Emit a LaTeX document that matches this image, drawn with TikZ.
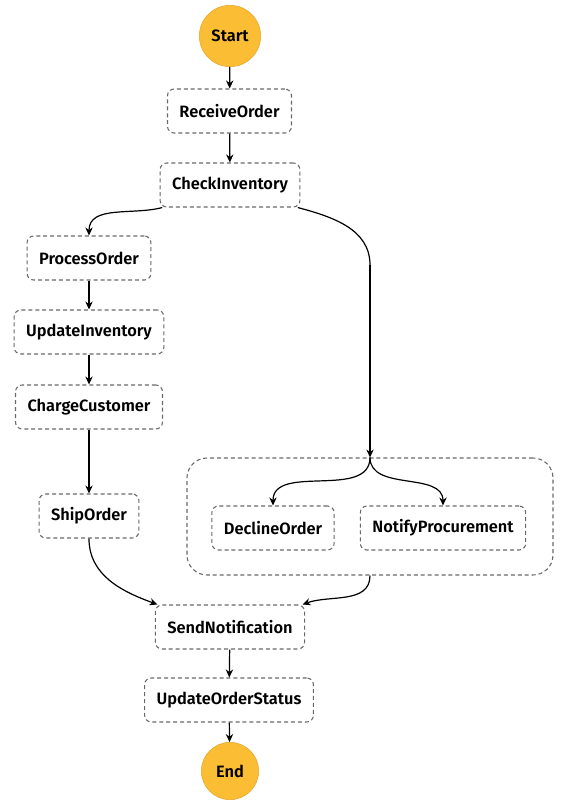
\documentclass[tikz,border=0pt]{standalone}
\usepackage{fontspec}
\setmainfont{Fira Sans SemiBold}
\usetikzlibrary{arrows.meta}
\definecolor{stategray}{RGB}{105,105,105}
\definecolor{termfill}{RGB}{251,189,52}
\definecolor{termdraw}{RGB}{232,165,40}
\begin{document}
\begin{tikzpicture}[x=0.75pt,y=-0.75pt,font=\fontsize{12.3}{14}\selectfont,
  state/.style={draw=stategray,line width=0.8pt,dash pattern=on 3pt off 2.2pt,rounded corners=5pt,
    minimum height=33pt,inner xsep=9pt},
  term/.style={circle,fill=termfill,draw=termdraw,minimum size=#1},
  flow/.style={line width=0.9pt,-{Stealth[length=6pt,width=5.5pt]}}]
\useasboundingbox (0,0) rectangle (564,807);
\node[term=46pt] (start) at (230,36) {Start};
\node[state] (receiveorder) at (229.5,111) {ReceiveOrder};
\node[state] (checkinventory) at (230,185) {CheckInventory};
\node[state] (processorder) at (89,258) {ProcessOrder};
\node[state] (updateinventory) at (89,332) {UpdateInventory};
\node[state] (chargecustomer) at (89,407) {ChargeCustomer};
\node[state] (shiporder) at (89,516) {ShipOrder};
% parallel block
\node[state,minimum width=274.5pt,minimum height=87.75pt,rounded corners=15pt] (parallel) at (370,516.5) {};
\node[state] (declineorder) at (273,528) {DeclineOrder};
\node[state] (notifyprocurement) at (443,528) {NotifyProcurement};
\node[state] (sendnotification) at (230,627) {SendNotification};
\node[state] (updateorderstatus) at (229,700) {UpdateOrderStatus};
\node[term=43pt] (end) at (230,771) {End};
\coordinate (bend) at (370,265);

\draw[flow] (start) -- (receiveorder);
\draw[flow] (receiveorder) -- (checkinventory);
\draw[flow] ([xshift=2pt]checkinventory.south west) to[out=195,in=90] (processorder.north);
\draw[flow] (processorder) -- (updateinventory);
\draw[flow] (updateinventory) -- (chargecustomer);
\draw[flow] (chargecustomer) -- (shiporder);
\draw[line width=0.9pt] ([xshift=-2pt]checkinventory.south east) to[out=-15,in=90] (bend);
\draw[flow] (bend) -- (parallel.north);
\draw[flow] (parallel.north) to[out=-90,in=90] (declineorder.north);
\draw[flow] (parallel.north) to[out=-90,in=90] (notifyprocurement.north);
\draw[flow] (shiporder.south) to[out=-90,in=160] ([xshift=2pt]sendnotification.north west);
\draw[flow] (parallel.south) to[out=-90,in=20] ([xshift=-2pt]sendnotification.north east);
\draw[flow] (sendnotification) -- (updateorderstatus);
\draw[flow] (updateorderstatus) -- (end);
\end{tikzpicture}
\end{document}
